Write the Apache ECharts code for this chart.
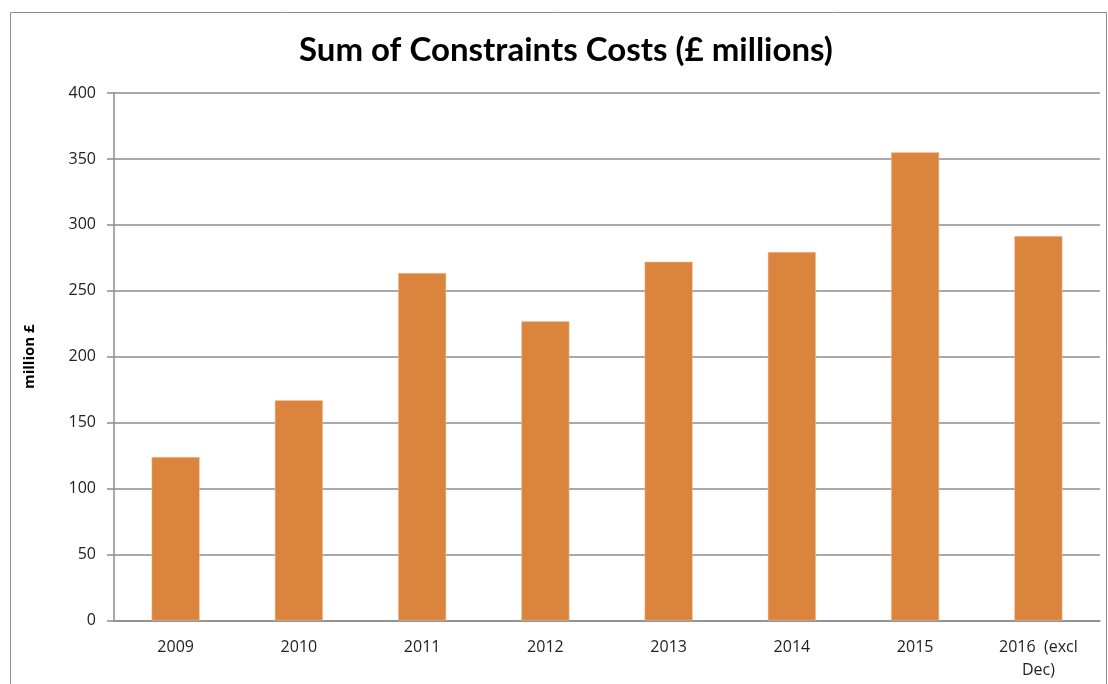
<!DOCTYPE html>
<html><head><meta charset="utf-8">
<script src="https://cdn.jsdelivr.net/npm/echarts@6/dist/echarts.min.js"></script>
<style>html,body{margin:0;padding:0;background:#fff}#c{width:1108px;height:684px}</style>
</head><body><div id="c"></div>
<script>
const categories = ['2009','2010','2011','2012','2013','2014','2015','2016  (excl\nDec)'];
const costs = [124, 167, 263.5, 227, 272, 279.5, 355, 291.5];
const yTicks = [0, 50, 100, 150, 200, 250, 300, 350, 400];

const chart = echarts.init(document.getElementById('c'));
chart.setOption({
  animation: false,
  backgroundColor: '#fff',
  graphic: [{
    type: 'rect', shape: {x: 10.5, y: 12.5, width: 1096, height: 690},
    style: {fill: 'none', stroke: '#8c8c8c', lineWidth: 1}, silent: true
  }],
  title: {
    text: 'Sum of Constraints Costs (£ millions)',
    left: 294, top: 29,
    textStyle: {fontFamily: 'Lato', fontWeight: 'bold', fontSize: 33, color: '#000'}
  },
  grid: {left: 114, right: 8, top: 93, bottom: 63.5, containLabel: false},
  xAxis: {
    type: 'category', data: categories,
    axisLine: {lineStyle: {color: '#8c8c8c', width: 1.5}},
    axisTick: {show: false},
    axisLabel: {fontFamily: 'Open Sans', fontSize: 16, color: '#222', margin: 15, lineHeight: 23}
  },
  yAxis: {
    type: 'value', min: yTicks[0], max: yTicks[yTicks.length - 1], interval: 50,
    name: 'million £', nameLocation: 'middle', nameGap: 77, nameRotate: 90,
    nameTextStyle: {fontFamily: 'Open Sans', fontWeight: 'bold', fontSize: 15, color: '#000'},
    axisLine: {show: true, lineStyle: {color: '#8c8c8c', width: 1.5}},
    axisTick: {show: true, length: 7, lineStyle: {color: '#8c8c8c', width: 1.5}},
    splitLine: {lineStyle: {color: '#8c8c8c', width: 1.5}},
    axisLabel: {fontFamily: 'Open Sans', fontSize: 16, color: '#222', margin: 18}
  },
  series: [{
    type: 'bar', data: costs, barWidth: '39%',
    itemStyle: {color: '#DB843D', borderColor: '#f2c9a6', borderWidth: 0.5}
  }]
});
</script></body></html>
